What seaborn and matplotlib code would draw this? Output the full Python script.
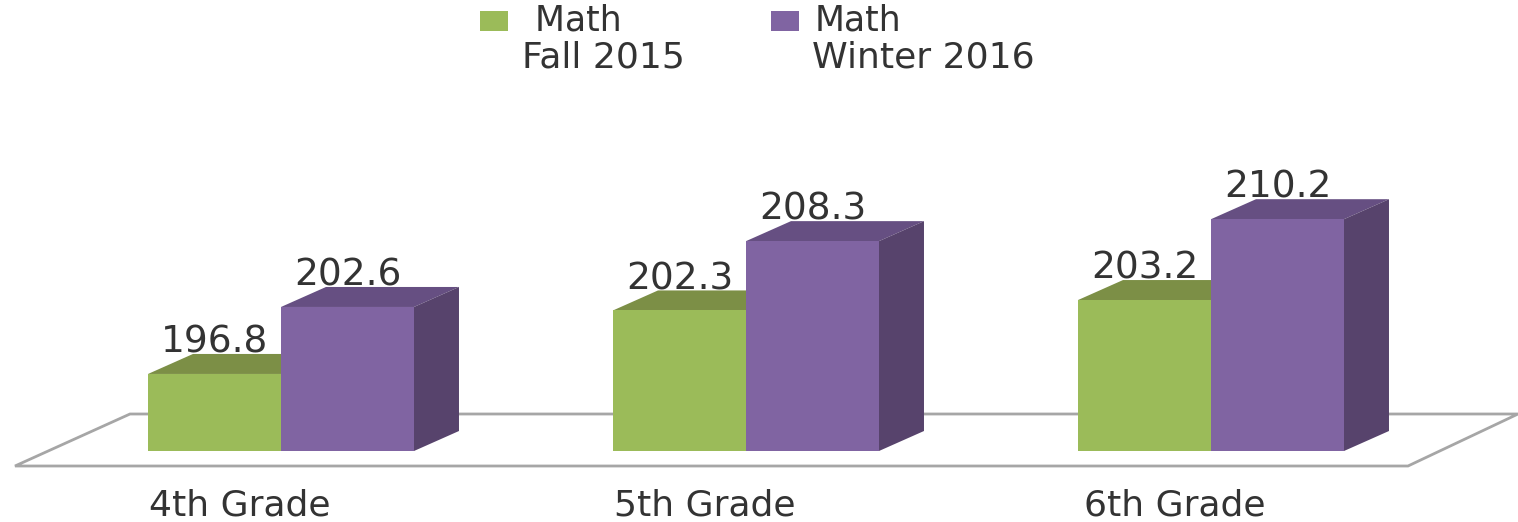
import matplotlib
matplotlib.use("Agg")
import matplotlib.pyplot as plt
import pandas as pd
import seaborn as sns
from matplotlib.patches import Polygon
from matplotlib.transforms import ScaledTranslation

# Datos del grafico
grades = ["4th Grade", "5th Grade", "6th Grade"]
fall_2015 = [196.8, 202.3, 203.2]
winter_2016 = [202.6, 208.3, 210.2]
base_value = 190.13

W, H = 1518, 522

df = pd.DataFrame({
    "Grade": grades * 2,
    "Term": ["Fall 2015"] * 3 + ["Winter 2016"] * 3,
    "Score": fall_2015 + winter_2016,
})

sns.set_theme(style="white")
plt.rcParams["font.family"] = ["DejaVu Sans"]

fig = plt.figure(figsize=(W / 100, H / 100), dpi=100)
ax = fig.add_axes([0, 42 / H, 1, 1 - 42 / H])

sns.barplot(data=df, x="Grade", y="Score", hue="Term", width=0.572, gap=0,
            palette=["#9BBB59", "#8064A2"], saturation=1, errorbar=None,
            linewidth=0, ax=ax)

px_y = 11.55
ax.set_xlim(-281 / 465, (W - 281) / 465)
ax.set_ylim(base_value - 29 / px_y, base_value + 451 / px_y)
sns.despine(ax=ax, left=True, bottom=True)
ax.set_xlabel("")
ax.set_ylabel("")
ax.set_yticks([])
ax.patch.set_alpha(0)


def to_fig(points):
    return [(x / W, 1 - y / H) for x, y in points]


# Suelo del grafico
floor = Polygon(to_fig([(130, 414), (1518, 414), (1408, 466), (15, 466)]),
                closed=True, transform=fig.transFigure, facecolor="white",
                edgecolor="#A6A6A6", linewidth=2, zorder=0)
ax.add_patch(floor)

# Caras 3D de cada barra
dx = 45 / 465
dy = 20 / px_y
faces = {0: ("#7C8F46", "#7C8F46"), 1: ("#664F82", "#57436C")}
for i, container in enumerate(ax.containers):
    top_color, side_color = faces[i]
    for p in container:
        p.set_height(p.get_height() - base_value)
        p.set_y(base_value)
        p.set_zorder(2 + i * 2 + 0.5)
        x0, x1 = p.get_x(), p.get_x() + p.get_width()
        y0, y1 = base_value, p.get_y() + p.get_height()
        ax.add_patch(Polygon([(x0, y1), (x0 + dx, y1 + dy), (x1 + dx, y1 + dy), (x1, y1)],
                             facecolor=top_color, edgecolor="none", zorder=2 + i * 2))
        ax.add_patch(Polygon([(x1, y0), (x1 + dx, y0 + dy), (x1 + dx, y1 + dy), (x1, y1)],
                             facecolor=side_color, edgecolor="none", zorder=2 + i * 2))
    ax.bar_label(container, fmt="%.1f", padding=9.5, fontsize=27, color="#333333", zorder=1.5)

# Etiquetas del eje x
ax.tick_params(axis="x", length=0, pad=6, labelsize=26, labelcolor="#333333")
for label, shift in zip(ax.get_xticklabels(), [-0.41, -0.41, -0.36]):
    label.set_transform(label.get_transform() + ScaledTranslation(shift, 0, fig.dpi_scale_trans))

# Leyenda
handles, _ = ax.get_legend_handles_labels()
leg = ax.legend(handles, [" Math", "Math"], ncol=2, frameon=False, fontsize=25,
                loc="upper left", bbox_to_anchor=(477 / W, 1 - 0 / H), bbox_transform=fig.transFigure,
                borderpad=0, borderaxespad=0.1, handlelength=0.8, handleheight=0.52,
                handletextpad=0.45, columnspacing=4.3, labelcolor="#333333")
for handle in leg.legend_handles:
    handle.set_linewidth(0)
    handle.set_y(handle.get_y() - 2.2)
fig.text(522 / W, 1 - 67 / H, "Fall 2015", fontsize=26, color="#333333")
fig.text(812 / W, 1 - 67 / H, "Winter 2016", fontsize=26, color="#333333")

fig.savefig("out.png", dpi=100)
